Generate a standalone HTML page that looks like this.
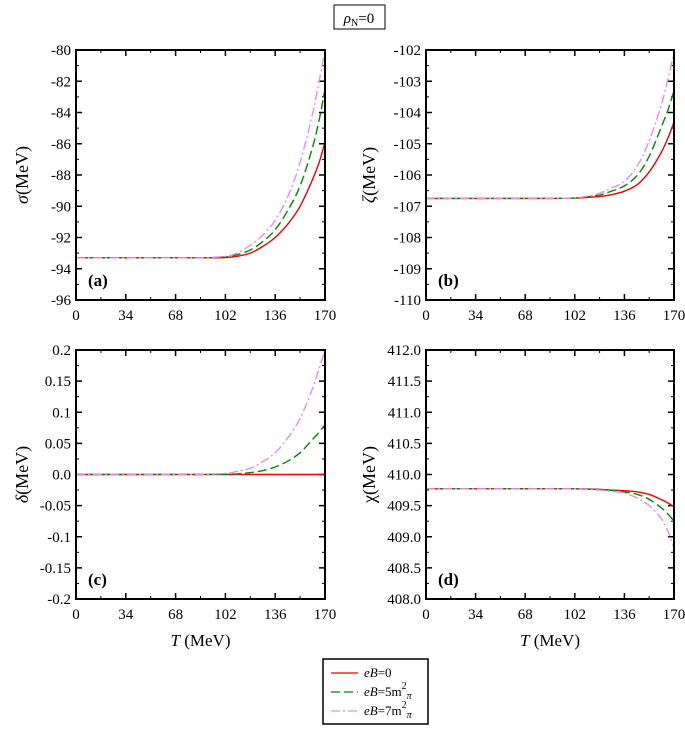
<!DOCTYPE html>
<html><head><meta charset="utf-8"><style>
body{margin:0;background:#fff;width:685px;height:725px;overflow:hidden}
svg text{font-family:"Liberation Serif",serif;fill:#000}
</style></head><body>
<svg id="c" width="685" height="725" xmlns="http://www.w3.org/2000/svg">
<g>
<rect x="334" y="5" width="51" height="24" fill="none" stroke="#000" stroke-width="1"/>
<text x="359" y="23" text-anchor="middle" font-size="15"><tspan font-style="italic">ρ</tspan><tspan font-size="10" dy="3">N</tspan><tspan dy="-3">=0</tspan></text>
</g>
<g>
<rect x="323" y="659" width="105" height="65" fill="#fff" stroke="#000" stroke-width="1.5"/>
<line x1="331" y1="673" x2="358" y2="673" stroke="#e00" stroke-width="1.3"/>
<text x="364" y="677" font-size="13"><tspan font-style="italic">eB</tspan>=0</text>
<line x1="331" y1="692" x2="358" y2="692" stroke="#080" stroke-width="1.3" stroke-dasharray="9,4"/>
<text x="364" y="696" font-size="13"><tspan font-style="italic">eB</tspan>=5m<tspan font-size="10" dy="-7">2</tspan><tspan font-size="10" dy="10" font-style="italic">π</tspan></text>
<line x1="331" y1="711" x2="358" y2="711" stroke="#e8e" stroke-width="1.3" stroke-dasharray="9,3,2,3"/>
<text x="364" y="715" font-size="13"><tspan font-style="italic">eB</tspan>=7m<tspan font-size="10" dy="-7">2</tspan><tspan font-size="10" dy="10" font-style="italic">π</tspan></text>
</g>
</svg>
<script>
const temps=[0,34,68,85,102,110,119,127,136,145,153,161,166,170];
const sigRed=[-93.3,-93.3,-93.3,-93.3,-93.28,-93.2,-93.0,-92.6,-92.0,-91.1,-90.0,-88.4,-87.2,-85.9];
const sigGreen=[-93.3,-93.3,-93.3,-93.3,-93.25,-93.1,-92.8,-92.3,-91.5,-90.2,-88.7,-86.4,-84.5,-82.5];
const sigPink=[-93.3,-93.3,-93.3,-93.3,-93.2,-93.0,-92.5,-91.9,-90.9,-89.3,-87.2,-84.3,-82.0,-80.0];
const zetRed=[-106.75,-106.75,-106.75,-106.75,-106.74,-106.72,-106.69,-106.63,-106.52,-106.3,-105.9,-105.3,-104.8,-104.3];
const zetGreen=[-106.75,-106.75,-106.75,-106.75,-106.74,-106.7,-106.64,-106.52,-106.35,-106.0,-105.4,-104.5,-103.9,-103.3];
const zetPink=[-106.75,-106.75,-106.75,-106.75,-106.73,-106.68,-106.58,-106.42,-106.2,-105.7,-104.9,-103.8,-102.9,-102.1];
const delRed=[0,0,0,0,0,0,0,0,0,0,0,0,0,0];
const delGreen=[0,0,0,0,0.0005,0.001,0.003,0.006,0.012,0.022,0.035,0.055,0.068,0.08];
const delPink=[0,0,0,0,0.002,0.005,0.01,0.02,0.035,0.06,0.09,0.135,0.17,0.2];
const chiRed=[409.77,409.77,409.77,409.77,409.77,409.765,409.76,409.75,409.74,409.72,409.68,409.6,409.54,409.48];
const chiGreen=[409.77,409.77,409.77,409.77,409.77,409.765,409.76,409.745,409.72,409.68,409.6,409.47,409.36,409.25];
const chiPink=[409.77,409.77,409.77,409.77,409.77,409.76,409.75,409.73,409.7,409.62,409.5,409.3,409.08,408.82];
const xTicks=[0,34,68,102,136,170];
const sigTicks=["-96","-94","-92","-90","-88","-86","-84","-82","-80"];
const zetTicks=["-110","-109","-108","-107","-106","-105","-104","-103","-102"];
const delTicks=["-0.2","-0.15","-0.1","-0.05","0.0","0.05","0.1","0.15","0.2"];
const chiTicks=["408.0","408.5","409.0","409.5","410.0","410.5","411.0","411.5","412.0"];
const NS="http://www.w3.org/2000/svg",svg=document.getElementById('c');
function mk(t,a,p){const e=document.createElementNS(NS,t);for(const k in a)e.setAttribute(k,a[k]);(p||svg).appendChild(e);return e;}
function smooth(pts){let d="M"+pts[0][0].toFixed(1)+","+pts[0][1].toFixed(1);
 for(let i=0;i<pts.length-1;i++){const p0=pts[Math.max(0,i-1)],p1=pts[i],p2=pts[i+1],p3=pts[Math.min(pts.length-1,i+2)];
  const c1=[p1[0]+(p2[0]-p0[0])/6,p1[1]+(p2[1]-p0[1])/6],c2=[p2[0]-(p3[0]-p1[0])/6,p2[1]-(p3[1]-p1[1])/6];
  d+="C"+c1.map(v=>v.toFixed(1))+" "+c2.map(v=>v.toFixed(1))+" "+p2.map(v=>v.toFixed(1));}
 return d;}
const panels=[
 {x0:76,x1:325,y0:50,y1:300,lo:-96,hi:-80,ticks:sigTicks,lab:"(a)",yl:"σ",ylx:28,d:[sigRed,sigGreen,sigPink],name:"panel-a-sigma"},
 {x0:426,x1:674,y0:50,y1:300,lo:-110,hi:-102,ticks:zetTicks,lab:"(b)",yl:"ζ",ylx:375,d:[zetRed,zetGreen,zetPink],name:"panel-b-zeta"},
 {x0:76,x1:325,y0:350,y1:599,lo:-0.2,hi:0.2,ticks:delTicks,lab:"(c)",yl:"δ",ylx:28,d:[delRed,delGreen,delPink],name:"panel-c-delta",xt:true},
 {x0:426,x1:674,y0:350,y1:599,lo:408,hi:412,ticks:chiTicks,lab:"(d)",yl:"χ",ylx:375,d:[chiRed,chiGreen,chiPink],name:"panel-d-chi",xt:true}];
const styles=[{c:"#e00",da:"none",n:"line-eb-0"},{c:"#080",da:"9,4",n:"line-eb-5"},{c:"#e8e",da:"9,3,2,3",n:"line-eb-7"}];
panels.forEach(p=>{
 const g=mk('g',{});
 
 
 const X=v=>p.x0+(v-0)/(170)*(p.x1-p.x0);
 const Y=v=>p.y1-(v-p.lo)/(p.hi-p.lo)*(p.y1-p.y0);
 const n=p.ticks.length;
 p.ticks.forEach((t,i)=>{const y=p.y1-i/(n-1)*(p.y1-p.y0);
  mk('line',{x1:p.x0,y1:y,x2:p.x0+6,y2:y,stroke:"#000","stroke-width":1.5},g);
  mk('line',{x1:p.x1,y1:y,x2:p.x1-6,y2:y,stroke:"#000","stroke-width":1.5},g);
  if(i<n-1){const ym=y-(p.y1-p.y0)/(n-1)/2;
  mk('line',{x1:p.x0,y1:ym,x2:p.x0+3,y2:ym,stroke:"#000"},g);mk('line',{x1:p.x1,y1:ym,x2:p.x1-3,y2:ym,stroke:"#000"},g);}
  const tx=mk('text',{x:p.x0-5,y:y+5,"text-anchor":"end","font-size":15},g);tx.textContent=t;
  
  });
 xTicks.forEach((t,i)=>{const x=X(t);
  mk('line',{x1:x,y1:p.y1,x2:x,y2:p.y1-6,stroke:"#000","stroke-width":1.5},g);
  mk('line',{x1:x,y1:p.y0,x2:x,y2:p.y0+6,stroke:"#000","stroke-width":1.5},g);
  if(i<xTicks.length-1){const xm=X(t+17);mk('line',{x1:xm,y1:p.y1,x2:xm,y2:p.y1-3,stroke:"#000"},g);mk('line',{x1:xm,y1:p.y0,x2:xm,y2:p.y0+3,stroke:"#000"},g);}
  const tx=mk('text',{x:x,y:p.y1+20,"text-anchor":"middle","font-size":15},g);tx.textContent=t;
  
  });
 p.d.forEach((arr,k)=>{const pts=arr.map((v,i)=>[X(temps[i]),Math.max(p.y0,Y(v))]);
  const pa=mk('path',{d:smooth(pts),fill:"none",stroke:styles[k].c,"stroke-width":1.4,"stroke-dasharray":styles[k].da},g);
  
  });
 mk('rect',{x:p.x0,y:p.y0,width:p.x1-p.x0,height:p.y1-p.y0,fill:"none",stroke:"#000","stroke-width":2},g);
 const lb=mk('text',{x:p.x0+12,y:p.y1-14,"font-size":17,"font-weight":"bold"},g);lb.textContent=p.lab;
 
 
 const cy=(p.y0+p.y1)/2;
 const yl=mk('text',{x:p.ylx,y:cy,"text-anchor":"middle","font-size":18,transform:`rotate(-90 ${p.ylx} ${cy})`},g);
 yl.innerHTML='<tspan font-style="'+(p.yl==="χ"?"normal":"italic")+'">'+p.yl+'</tspan>(MeV)';
 
 
 if(p.xt){const xt=mk('text',{x:(p.x0+p.x1)/2,y:646,"text-anchor":"middle","font-size":17},g);
  xt.innerHTML='<tspan font-style="italic">T</tspan> (MeV)';
  
  }
});
</script>
</body></html>
